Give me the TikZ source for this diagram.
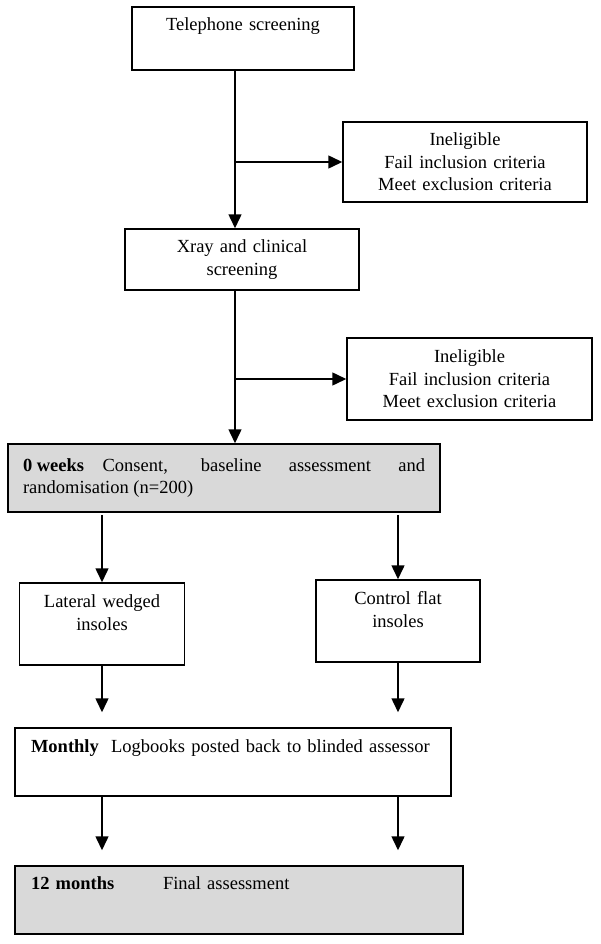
\documentclass[tikz,border=0pt]{standalone}
\usepackage{fontspec}
\setmainfont{Liberation Serif}
\usetikzlibrary{arrows.meta}
\definecolor{boxgray}{HTML}{D9D9D9}

\begin{document}
\begin{tikzpicture}[x=1pt,y=-1pt,line width=1.5pt,
    font=\fontsize{18.5}{22.5}\selectfont,
    box/.style={draw,inner xsep=0pt,inner ysep=0pt,align=center},
    arr/.style={-{Triangle[length=14pt,width=13pt]}}]
    \useasboundingbox (0,0) rectangle (600,944);
    \node[box,text width=222pt,text height=23.5pt,text depth=39.5pt] (tel) at (243,38.5) {Telephone screening};
    \node[box,text width=244pt,minimum height=80pt] (inelA) at (465,162) {Ineligible\\Fail inclusion criteria\\Meet exclusion criteria};
    \node[box,text width=234pt,minimum height=61pt] (xray) at (242,259.5) {Xray and clinical\\screening};
    \node[box,text width=245pt,minimum height=82pt] (inelB) at (469.5,379) {Ineligible\\Fail inclusion criteria\\Meet exclusion criteria};
    \node[box,fill=boxgray,inner xsep=15pt,text width=402pt,minimum height=68pt,align=justify] (zero) at (224,478) {\mbox{\textbf{0 weeks}}\quad Consent, baseline assessment and\linebreak randomisation (n=200)};
    \node[box,text width=165pt,text height=24.5pt,text depth=57.5pt] (lat) at (102,624) {Lateral wedged\\insoles};
    \node[box,text width=164pt,text height=24.5pt,text depth=57.5pt] (ctl) at (398,621) {Control flat\\insoles};
    \node[box,inner xsep=16pt,text width=404pt,text height=24.5pt,text depth=43.5pt,align=left] (monthly) at (233,762) {\mbox{\textbf{Monthly}\ \ Logbooks posted back to blinded assessor}};
    \node[box,fill=boxgray,inner xsep=16pt,text width=416pt,text height=23.5pt,text depth=44.5pt,align=left] (twelve) at (239,900) {\makebox[132pt][l]{\textbf{12 months}}Final assessment};
    \coordinate (trunk) at (235,0);
    \draw[arr] (tel.south -| trunk) -- (xray.north -| trunk);
    \draw[arr] (inelA.west -| trunk) -- (inelA.west);
    \draw[arr] (xray.south -| trunk) -- (zero.north -| trunk);
    \draw[arr] (inelB.west -| trunk) -- (inelB.west);
    \foreach \b in {lat,ctl} {
        \draw[arr,shorten <=2pt] (zero.south -| \b) -- (\b.north);
        \draw[arr,shorten >=15pt] (\b.south) -- (monthly.north -| \b);
        \draw[arr,shorten >=15pt] (monthly.south -| \b) -- (twelve.north -| \b);
    }
\end{tikzpicture}
\end{document}
